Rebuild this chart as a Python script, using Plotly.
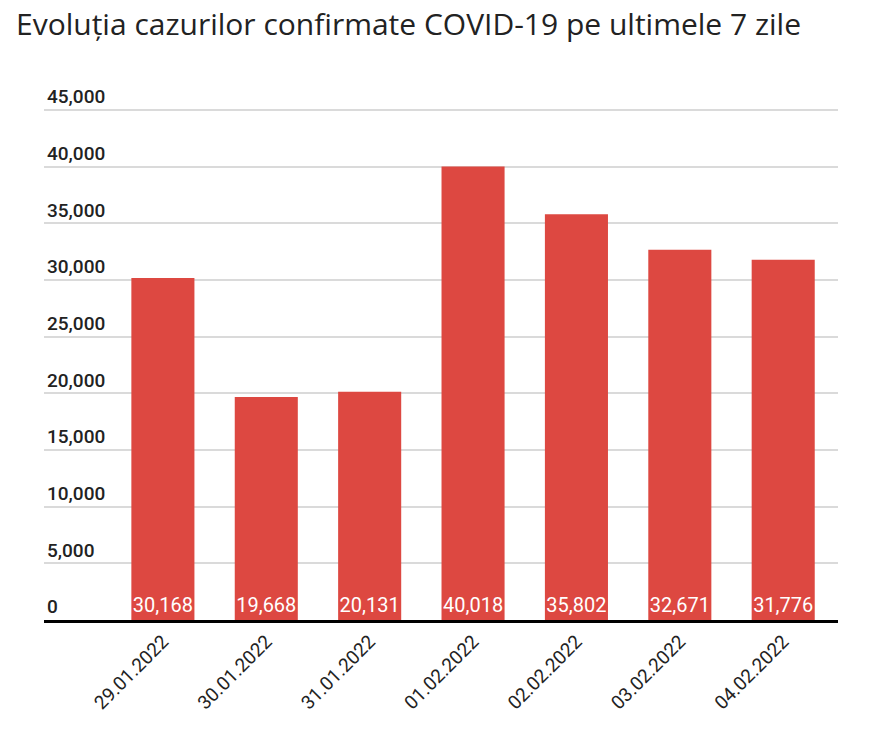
import plotly.graph_objects as go

dates = ["29.01.2022", "30.01.2022", "31.01.2022", "01.02.2022", "02.02.2022", "03.02.2022", "04.02.2022"]
cases = [30168, 19668, 20131, 40018, 35802, 32671, 31776]
y_ticks = [0, 5000, 10000, 15000, 20000, 25000, 30000, 35000, 40000, 45000]
y_tick_labels = ["0", "5,000", "10,000", "15,000", "20,000", "25,000", "30,000", "35,000", "40,000", "45,000"]
title = "Evoluția cazurilor confirmate COVID-19 pe ultimele 7 zile"

fig = go.Figure(go.Bar(
    x=dates, y=cases,
    marker=dict(color="#DD4841", line=dict(width=0)),
    width=0.61,
    text=[f"{v:,}" for v in cases],
    textposition="inside",
    insidetextanchor="start",
    textangle=0,
    constraintext="none",
    textfont=dict(color="white", size=20, family="Roboto"),
    hoverinfo="skip",
))

fig.update_layout(
    width=880, height=739,
    margin=dict(l=44, r=42, t=76, b=119),
    paper_bgcolor="white", plot_bgcolor="white",
    showlegend=False,
    font=dict(family="Roboto", color="#222"),
    annotations=[dict(
        text=title, xref="paper", yref="paper",
        x=-0.0378, xanchor="left", y=1.0, yshift=53, yanchor="middle",
        showarrow=False, font=dict(family="Open Sans", size=30, color="#222"),
    )],
)
fig.update_xaxes(
    type="category", range=[-1.15, 6.53],
    tickangle=-45, tickfont=dict(size=19, color="#222"),
    showline=True, linecolor="black", linewidth=3,
    showgrid=False, ticks="",
)
fig.update_yaxes(
    range=[0, 48000], tickvals=y_ticks, ticktext=y_tick_labels,
    ticklabelposition="inside top", tickfont=dict(size=19, color="#222", weight=500),
    showgrid=True, gridcolor="#DADADA", gridwidth=1.5,
    zeroline=False, showline=False, ticks="",
)

fig.write_html("out.html", config={"displayModeBar": False},
               post_script="document.body.style.margin='0';")
